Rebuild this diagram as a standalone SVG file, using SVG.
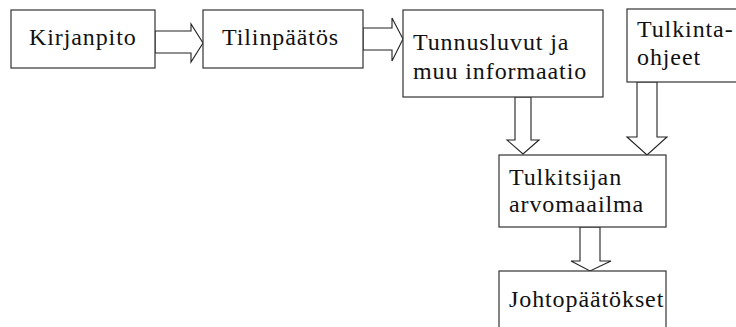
<svg xmlns="http://www.w3.org/2000/svg" width="736" height="327" viewBox="0 0 736 327">
<defs>
<symbol id="none"/>
</defs>
<rect width="736" height="327" fill="#fff"/>
<g id="connectors" fill="#fff" stroke="#222" stroke-width="1.1">
<polygon points="155,31 191,31 191,24 203,43 191,62 191,53 155,53"/>
<polygon points="363,28 392,28 392,18 403,39 392,61 392,50 363,50"/>
<polygon points="515,97 531,97 531,140 539,140 523,154 507,140 515,140"/>
<polygon points="637,82 657,82 657,137 667,137 647,155 627,137 637,137"/>
<polygon points="580,227 600,227 600,261 611,261 590,271 571,261 580,261"/>
</g>
<g id="nodes" font-family="Liberation Serif" font-size="24" letter-spacing="0.9">
<g id="kirjanpito"><rect x="11" y="10" width="144" height="58" fill="#fff" stroke="#333" stroke-width="1.2"/><text x="29" y="45" fill="#111">Kirjanpito</text></g>
<g id="tilinpaatos"><rect x="203" y="10" width="160" height="58" fill="#fff" stroke="#333" stroke-width="1.2"/><text x="222" y="45" fill="#111">Tilinpäätös</text></g>
<g id="tunnusluvut"><rect x="403" y="10" width="200" height="87" fill="#fff" stroke="#333" stroke-width="1.2"/><text x="413" y="50" fill="#111">Tunnusluvut ja</text><text x="413" y="79" fill="#111">muu informaatio</text></g>
<g id="tulkintaohjeet"><rect x="627" y="9" width="120" height="73" fill="#fff" stroke="#333" stroke-width="1.2"/><text x="637" y="37" fill="#111">Tulkinta-</text><text x="637" y="65" fill="#111">ohjeet</text></g>
<g id="tulkitsijan"><rect x="499" y="155" width="167" height="72" fill="#fff" stroke="#333" stroke-width="1.2"/><text x="509" y="185" fill="#111">Tulkitsijan</text><text x="509" y="212" fill="#111">arvomaailma</text></g>
<g id="johtopaatokset"><rect x="499" y="271" width="167" height="70" fill="#fff" stroke="#333" stroke-width="1.2"/><text x="509" y="307" fill="#111">Johtopäätökset</text></g>
</g>
</svg>
